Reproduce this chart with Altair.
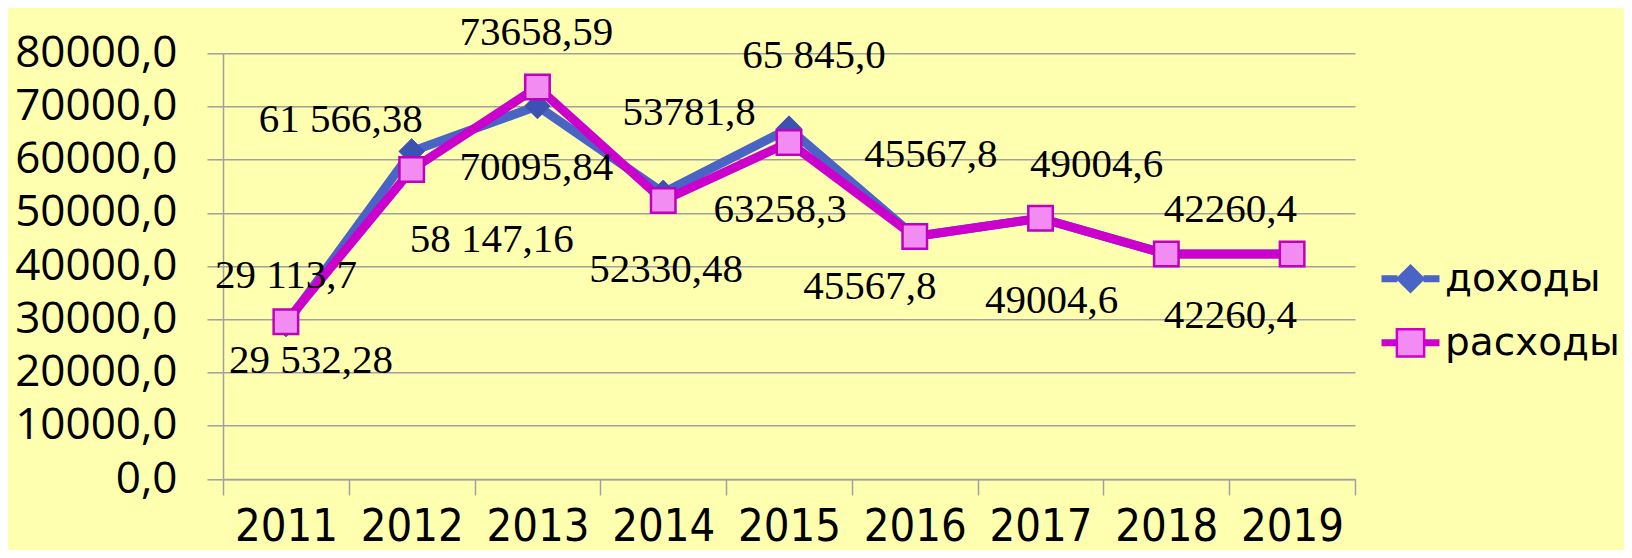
import altair as alt
import pandas as pd

# ---- data ----
years = ["2011", "2012", "2013", "2014", "2015", "2016", "2017", "2018", "2019"]
dohody = [29113.7, 61566.38, 70095.84, 53781.8, 65845.0, 45567.8, 49004.6, 42260.4, 42260.4]
raskhody = [29532.28, 58147.16, 73658.59, 52330.48, 63258.3, 45567.8, 49004.6, 42260.4, 42260.4]
dohody_labels = ["29 113,7", "61 566,38", "70095,84", "53781,8", "65 845,0",
                 "45567,8", "49004,6", "42260,4", ""]
raskhody_labels = ["29 532,28", "58 147,16", "73658,59", "52330,48", "63258,3",
                   "45567,8", "49004,6", "42260,4", ""]
series_names = ["доходы", "расходы"]
y_ticks = [0, 10000, 20000, 30000, 40000, 50000, 60000, 70000, 80000]

# ---- layout / style ----
dohody_label_offsets = [(0, -36), (-71, -19), (-1, 74), (26, -68), (25, -61),
                        (16, -70), (56, -41), (64, -32)]
raskhody_label_offsets = [(25, 51), (80, 82), (-1, -42), (3, 81), (-9, 80),
                          (-45, 62), (11, 95), (64, 74)]

BG = "#FFFFB0"
GRID = "#A0A0A0"
BLUE = "#4A64C6"
DIAMOND = "#3C52B2"
MAG = "#CC00CC"
PINK = "#F28CF2"

rows = []
for name, vals, labs in [(series_names[0], dohody, dohody_labels),
                         (series_names[1], raskhody, raskhody_labels)]:
    for yr, v, lab in zip(years, vals, labs):
        rows.append({"series": name, "year": yr, "value": v, "label": lab})
df = pd.DataFrame(rows)

x_enc = alt.X(
    "year:O",
    scale=alt.Scale(type="band", domain=years, paddingInner=0, paddingOuter=0),
    axis=alt.Axis(
        title=None, labelAngle=0, labelFont="DejaVu Sans Condensed, sans-serif",
        labelFontSize=45, labelColor="black", labelPadding=9, tickSize=16,
        tickColor=GRID, tickWidth=1.5, domainColor=GRID, domainWidth=1.5,
        grid=False, tickBand="extent",
    ),
)
y_enc = alt.Y(
    "value:Q",
    scale=alt.Scale(domain=[0, 80000], nice=False),
    axis=alt.Axis(
        values=y_ticks, title=None, grid=True, gridColor=GRID, gridWidth=1.5,
        tickSize=16, tickColor=GRID, tickWidth=1.5, domainColor=GRID, domainWidth=1.5,
        labelFont="Open Sans", labelFontSize=44, labelColor="black", labelPadding=30,
        labelExpr="replace(format(datum.value, '.1f'), '.', ',')",
    ),
)

base = alt.Chart(df)
d_data = base.transform_filter(alt.datum.series == series_names[0])
r_data = base.transform_filter(alt.datum.series == series_names[1])

line_d = d_data.mark_line(color=BLUE, strokeWidth=9).encode(x=x_enc, y=y_enc)
pts_d = d_data.mark_point(shape="diamond", filled=True, size=650, fill=DIAMOND,
                          stroke=DIAMOND, strokeWidth=1, opacity=1).encode(x=x_enc, y=y_enc)
line_r = r_data.mark_line(color=MAG, strokeWidth=9).encode(x=x_enc, y=y_enc)
pts_r = r_data.mark_point(shape="square", filled=True, size=600, fill=PINK,
                          stroke="#C000C0", strokeWidth=2.5, opacity=1).encode(x=x_enc, y=y_enc)

# legend (line + marker symbols)
PATH_D = ("M-1,-0.08L-0.45,-0.08M-1,0L-0.45,0M-1,0.08L-0.45,0.08"
          "M0.45,-0.08L1,-0.08M0.45,0L1,0M0.45,0.08L1,0.08"
          "M0,-0.45L0.45,0L0,0.45L-0.45,0Z")
PATH_R = ("M-1,-0.08L-0.47,-0.08M-1,0L-0.47,0M-1,0.08L-0.47,0.08"
          "M0.47,-0.08L1,-0.08M0.47,0L1,0M0.47,0.08L1,0.08"
          "M-0.47,-0.47L0.47,-0.47L0.47,0.47L-0.47,0.47Z")
leg = alt.Legend(
    orient="none", legendX=1157, legendY=195, title=None,
    labelFont="DejaVu Sans", labelFontSize=39, labelColor="black",
    symbolSize=3364, symbolStrokeWidth=2.5, rowPadding=13, labelOffset=4,
    padding=0, symbolOpacity=1, labelLimit=0,
)
legend_layer = base.transform_filter("false").mark_point(
    filled=True, opacity=1, strokeWidth=2.5, size=3364
).encode(
    x=x_enc, y=y_enc,
    shape=alt.Shape("series:N", scale=alt.Scale(domain=series_names, range=[PATH_D, PATH_R]), legend=leg),
    fill=alt.Fill("series:N", scale=alt.Scale(domain=series_names, range=[BLUE, PINK]), legend=leg),
    stroke=alt.Stroke("series:N", scale=alt.Scale(domain=series_names, range=[BLUE, MAG]), legend=leg),
)

# data labels
label_layers = []
for name, src, offsets in [(series_names[0], d_data, dohody_label_offsets),
                           (series_names[1], r_data, raskhody_label_offsets)]:
    for i, (dx, dy) in enumerate(offsets):
        label_layers.append(
            src.transform_filter(alt.datum.year == years[i]).mark_text(
                font="Liberation Serif", fontSize=41, color="black",
                align="center", baseline="alphabetic", dx=dx, dy=dy,
            ).encode(x=x_enc, y=y_enc, text="label:N")
        )

chart = alt.layer(
    line_d, pts_d, line_r, pts_r, legend_layer, *label_layers
).properties(
    width=1132, height=425.7,
    padding={"left": 215, "top": 45.3, "right": 269, "bottom": 71},
    autosize=alt.AutoSizeParams(type="none"),
).configure(
    background=BG,
).configure_view(
    stroke=None,
)

chart.save("out.html", embed_options={"renderer": "svg", "actions": False})
